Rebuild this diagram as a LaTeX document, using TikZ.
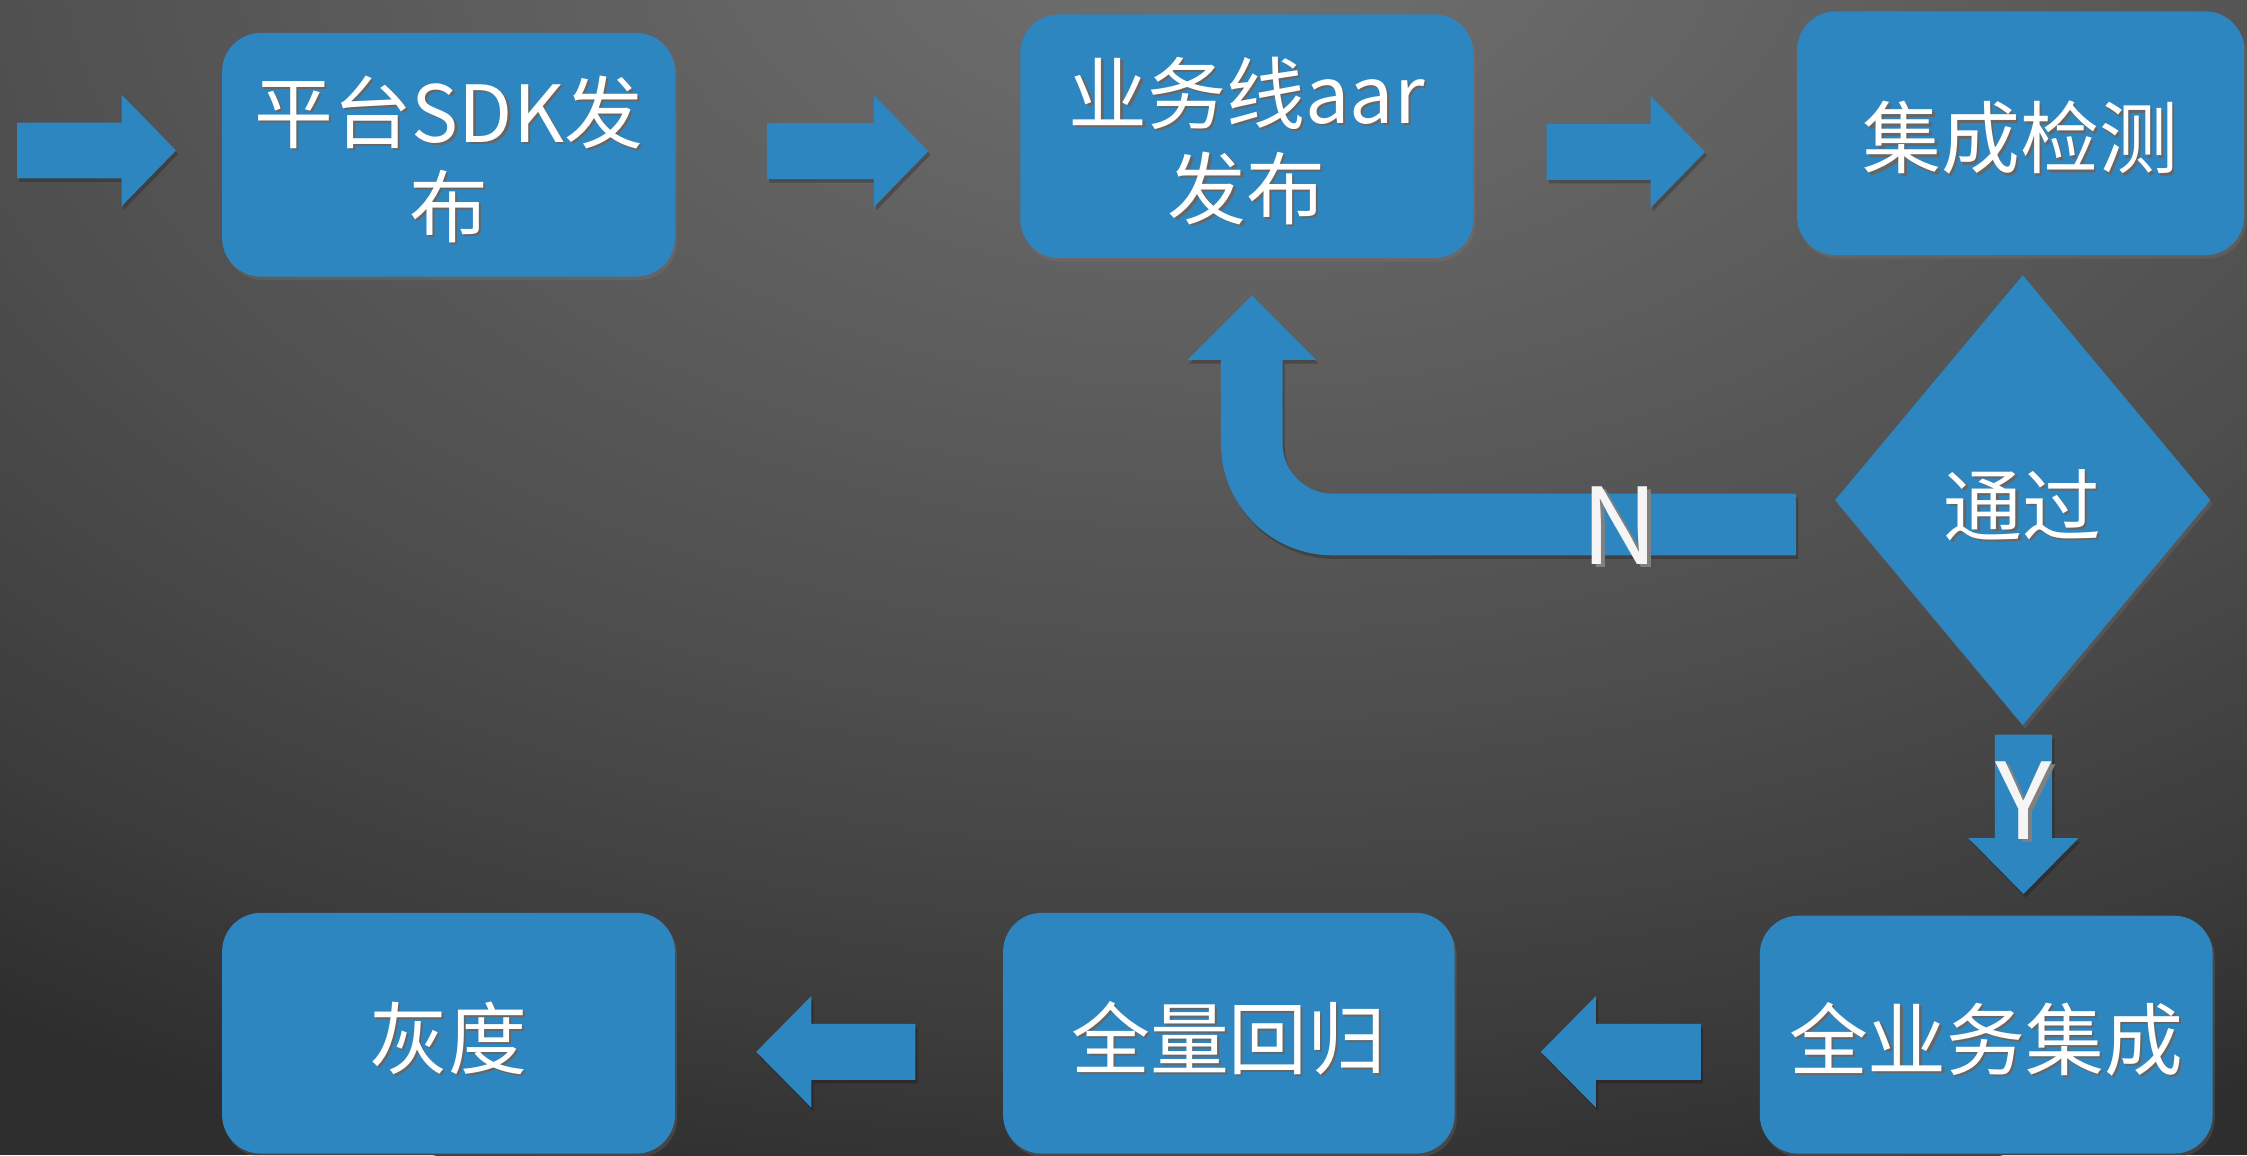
\documentclass[tikz,border=0pt]{standalone}
\usepackage{fontspec}
\setmainfont{Noto Sans CJK SC}
\usetikzlibrary{calc,shapes.geometric,shadows}
\definecolor{boxblue}{RGB}{46,134,193}
\definecolor{bg0}{RGB}{113,113,113}
\definecolor{bg1}{RGB}{96,96,96}
\definecolor{bg2}{RGB}{78,78,78}
\definecolor{bg3}{RGB}{60,60,60}
\definecolor{bg4}{RGB}{46,46,46}
\pgfdeclareradialshading{bgshade}{\pgfpoint{0bp}{0bp}}{color(0bp)=(bg0); color(7.5bp)=(bg1); color(15bp)=(bg2); color(21.2bp)=(bg3); color(25bp)=(bg4); color(50bp)=(bg4)}
\newcommand\shd[1]{\raisebox{-4pt}[\height][\depth]{\makebox[0pt][l]{\hspace{1.5pt}\raisebox{-1.5pt}{\color{black!60}#1}}#1}}
\newcommand\shdb[1]{\makebox[0pt][l]{\hspace{3pt}\raisebox{-2pt}{\color{black!50}#1}}#1}
% #1 tail, #2 tip, #3 half shaft width, #4 half head width, #5 head length
\newcommand\fatarrow[5]{%
  \path ($(#2)!#5!(#1)$) coordinate (fab);
  \fill[arrowshape] ($(#1)!#3!90:(#2)$) -- ($(fab)!#3!-90:(#1)$) -- ($(fab)!#4!-90:(#1)$)
    -- (#2) -- ($(fab)!#4!90:(#1)$) -- ($(fab)!#3!90:(#1)$) -- ($(#1)!#3!-90:(#2)$) -- cycle;}
\begin{document}
\begin{tikzpicture}[x=1pt,y=-1pt,
  box/.style={rectangle, rounded corners=27pt, fill=boxblue, text=white, inner sep=0pt,
    font=\fontsize{55pt}{66pt}\selectfont, align=center,
    drop shadow={shadow xshift=1.5pt, shadow yshift=-2.5pt, opacity=.25}},
  decision/.style={diamond, fill=boxblue, text=white, inner sep=0pt,
    minimum width=262pt, minimum height=314pt,
    font=\fontsize{55pt}{66pt}\selectfont,
    drop shadow={shadow xshift=1.5pt, shadow yshift=-2.5pt, opacity=.25}},
  arrowshape/.style={fill=boxblue,
    preaction={fill=black, fill opacity=.22, transform canvas={shift={(1.5pt,-2.5pt)}}}},
  yn/.style={text=gray!8, inner sep=0pt, font=\fontsize{74pt}{74pt}\selectfont}]
\useasboundingbox (0,0) rectangle (1568,806);
\begin{scope}
  \clip (0,0) rectangle (1568,806);
  \fill[bg4] (0,0) rectangle (1568,806);
  \shade[shading=bgshade] (850,-60) ellipse [x radius=1500, y radius=930];
\end{scope}

% nodes
\node[box, minimum width=316pt, minimum height=170pt] (b1) at (313,108) {\shd{平台SDK发}\\\shd{布}};
\node[box, minimum width=316pt, minimum height=170pt] (b2) at (870,95) {\shd{业务线aar}\\\shd{发布}};
\node[box, minimum width=312pt, minimum height=170pt] (b3) at (1410,93) {\shd{集成检测}};
\node[decision] (dia) at (1411.5,349) {\shd{通过}};
\node[box, minimum width=316pt, minimum height=166pt] (b4) at (1386,722) {\shd{全业务集成}};
\node[box, minimum width=315pt, minimum height=168pt] (b5) at (857.5,721) {\shd{全量回归}};
\node[box, minimum width=316pt, minimum height=168pt] (b6) at (313,721) {\shd{灰度}};

% connector end points
\coordinate (s0) at (12,105);
\coordinate (e0) at ($(b1.west)+(-32,-3)$);
\coordinate (s1) at ($(b1.east)+(64,-2.5)$);
\coordinate (e1) at ($(b2.west)+(-64,10.5)$);
\coordinate (s2) at ($(b2.east)+(51,11)$);
\coordinate (e2) at ($(b3.west)+(-64,13)$);
\coordinate (sy) at ($(dia.south)+(0.5,6.5)$);
\coordinate (ey) at ($(b4.north)+(26,-15)$);
\coordinate (s4) at ($(b4.west)+(-41,12)$);
\coordinate (e4) at ($(b5.east)+(60,13)$);
\coordinate (s5) at ($(b5.west)+(-61,13)$);
\coordinate (e5) at ($(b6.east)+(56.5,13)$);
\coordinate (sn) at ($(dia.west)+(-27,17)$);
\coordinate (en) at ($(b2.south)+(3.5,26)$);

% straight block arrows
\fatarrow{s0}{e0}{19.5pt}{39pt}{38pt}
\fatarrow{s1}{e1}{19.5pt}{39pt}{38pt}
\fatarrow{s2}{e2}{19.5pt}{39pt}{38pt}
\fatarrow{sy}{ey}{20pt}{38.5pt}{39pt}
\fatarrow{s4}{e4}{19.5pt}{39pt}{38.5pt}
\fatarrow{s5}{e5}{19.5pt}{39pt}{38.5pt}

% bent "N" arrow back to b2
\fill[arrowshape] let \p1=(sn), \p2=(en) in
  (\x1,\y1+21.5pt) -- (\x2+56.5pt,\y1+21.5pt)
  arc[start angle=-90, end angle=-180, radius=35pt]
  -- (\x2+21.5pt,\y2-45pt) -- (\x2+45pt,\y2-45pt) -- (\x2,\y2)
  -- (\x2-45pt,\y2-45pt) -- (\x2-21.5pt,\y2-45pt)
  -- (\x2-21.5pt,\y1+56.5pt)
  arc[start angle=180, end angle=270, radius=78pt]
  -- (\x1,\y1-21.5pt) -- cycle;

% labels
\node[yn] (lN) at (1130,368) {\shdb{N}};
\node[yn] (lY) at (1412,560) {\shdb{Y}};
\end{tikzpicture}
\end{document}
